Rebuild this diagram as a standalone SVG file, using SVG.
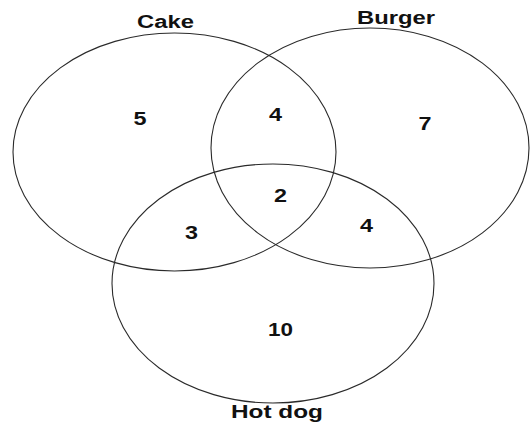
<svg xmlns="http://www.w3.org/2000/svg" width="531" height="426" viewBox="0 0 531 426">
<style>
.set{fill:none;stroke:#2a2a2a;stroke-width:1.1}
.t{font-family:"Liberation Sans",Arial,sans-serif;font-weight:bold;font-size:18px;fill:#111;text-anchor:middle}
</style>
<rect width="531" height="426" fill="#fff"/>
<g id="cake">
<ellipse class="set" cx="174.5" cy="152" rx="161.5" ry="119"/>
<text class="t" x="165.5" y="28" textLength="57" lengthAdjust="spacingAndGlyphs">Cake</text>
</g>
<g id="burger">
<ellipse class="set" cx="370" cy="148" rx="159" ry="120"/>
<text class="t" x="396" y="24" textLength="78" lengthAdjust="spacingAndGlyphs">Burger</text>
</g>
<g id="hotdog">
<ellipse class="set" cx="273" cy="283.5" rx="161" ry="119.5"/>
<text class="t" x="277" y="418" textLength="92" lengthAdjust="spacingAndGlyphs">Hot dog</text>
</g>
<g id="counts">
<text class="t" x="140" y="125" textLength="13" lengthAdjust="spacingAndGlyphs">5</text>
<text class="t" x="275.5" y="121" textLength="13" lengthAdjust="spacingAndGlyphs">4</text>
<text class="t" x="425" y="130" textLength="13" lengthAdjust="spacingAndGlyphs">7</text>
<text class="t" x="280.5" y="202" textLength="13" lengthAdjust="spacingAndGlyphs">2</text>
<text class="t" x="191.5" y="239" textLength="13" lengthAdjust="spacingAndGlyphs">3</text>
<text class="t" x="366.5" y="232" textLength="13" lengthAdjust="spacingAndGlyphs">4</text>
<text class="t" x="280.5" y="336" textLength="25" lengthAdjust="spacingAndGlyphs">10</text>
</g>
<g id="connectors"/>
</svg>
